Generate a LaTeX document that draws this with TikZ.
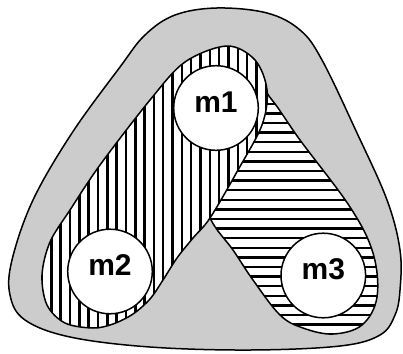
\documentclass[tikz,border=0pt]{standalone}
\usepackage{fontspec}
\setmainfont{Liberation Sans}
\begin{document}
\begin{tikzpicture}[x=1pt,y=-1pt, line join=round,
  outline/.style={line width=1.5pt},
  hatch/.style={line width=2.4pt},
  member/.style={circle, draw, fill=white, line width=1.5pt, minimum size=84.6pt, inner sep=0pt,
    font=\fontsize{30}{30}\selectfont\bfseries, text height=21.5pt, text depth=13pt}]
\useasboundingbox (0,0) rectangle (403,353);
\definecolor{setgray}{RGB}{204,204,204}
\def\outerpath{plot[smooth cycle, tension=0.6] coordinates {
  (217,8) (267,13) (300,30) (322,60) (357,133) (387,200) (400,250) (400,290) (395,315)
  (380,335) (340,346) (250,350) (150,347) (70,337) (25,320) (10,295) (12,260) (33,200)
  (72,133) (120,67) (145,35) (175,15)}}
\def\vpath{plot[smooth cycle, tension=0.55] coordinates {
  (227,46) (255,60) (267,90) (262,125) (238,170) (210,218) (193,238) (177,258) (163,280)
  (150,299) (133,314) (113,324) (93,328) (65,323) (47,305) (42,275) (50,242) (70,210)
  (100,165) (150,100) (185,62)}}
\def\hpath{plot[smooth cycle, tension=0.6] coordinates {
  (252,82) (272,100) (300,140) (350,207) (373,253) (377,297) (362,325) (333,334) (303,328)
  (280,315) (253,280) (233,250) (210,218) (195,170) (215,110)}}
% outer set
\fill[setgray] \outerpath;
\draw[outline] \outerpath;
% m1-m3 set
\begin{scope}
  \clip \hpath;
  \fill[white] (0,0) rectangle (403,353);
  \foreach \k in {0,...,28} {\draw[hatch] (0,{75+9.6*\k}) -- (403,{75+9.6*\k});}
\end{scope}
\draw[outline] \hpath;
% m1-m2 set
\begin{scope}
  \clip \vpath;
  \fill[white] (0,0) rectangle (403,353);
  \foreach \k in {0,...,26} {\draw[hatch] ({42+9.33*\k},0) -- ({42+9.33*\k},353);}
\end{scope}
\draw[outline] \vpath;
% members
\node[member] (m1) at (216,108) {m1};
\node[member] (m2) at (110,271.5) {m2};
\node[member] (m3) at (323.3,275.5) {m3};
\end{tikzpicture}
\end{document}
